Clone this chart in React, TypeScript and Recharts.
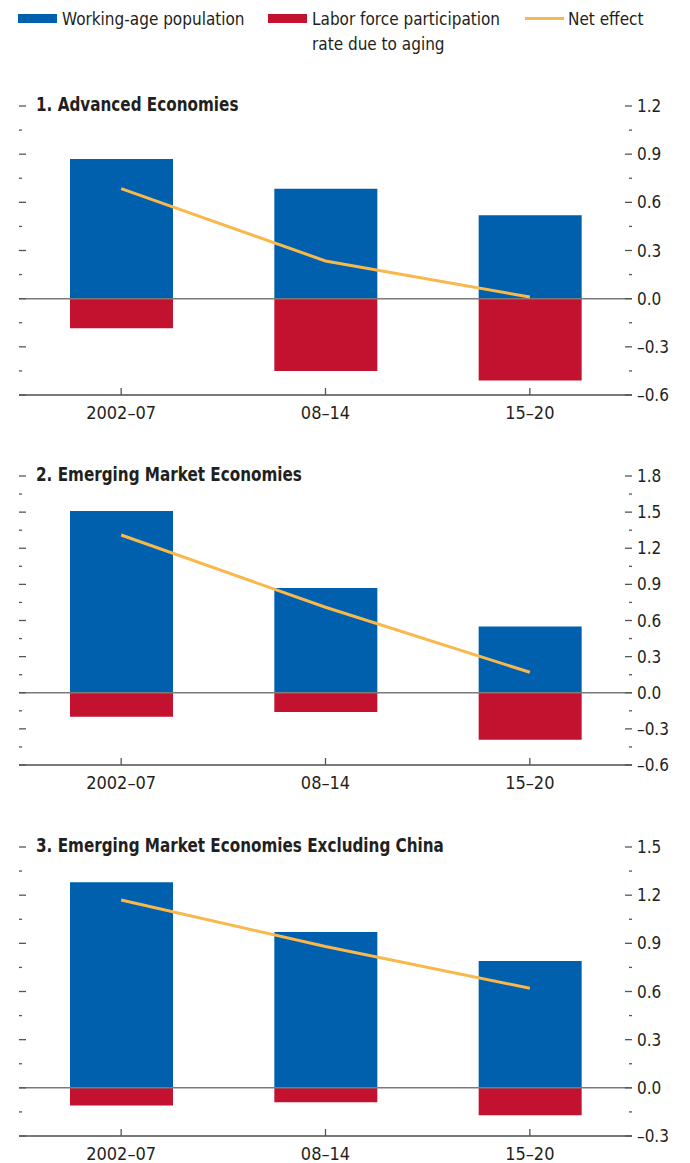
import { Bar, ComposedChart, Line, ReferenceLine, XAxis, YAxis } from 'recharts'

const periods = ['2002–07', '08–14', '15–20']

const advancedWorkingAge = [0.87, 0.685, 0.52]
const advancedParticipation = [-0.185, -0.45, -0.51]
const advancedNet = [0.685, 0.235, 0.01]
const advancedTicks = [-0.6, -0.45, -0.3, -0.15, 0, 0.15, 0.3, 0.45, 0.6, 0.75, 0.9, 1.05, 1.2]

const emergingWorkingAge = [1.51, 0.87, 0.55]
const emergingParticipation = [-0.2, -0.16, -0.39]
const emergingNet = [1.31, 0.71, 0.17]
const emergingTicks = [-0.6, -0.45, -0.3, -0.15, 0, 0.15, 0.3, 0.45, 0.6, 0.75, 0.9, 1.05, 1.2, 1.35, 1.5, 1.65, 1.8]

const exChinaWorkingAge = [1.28, 0.97, 0.79]
const exChinaParticipation = [-0.11, -0.09, -0.17]
const exChinaNet = [1.17, 0.88, 0.62]
const exChinaTicks = [-0.3, -0.15, 0, 0.15, 0.3, 0.45, 0.6, 0.75, 0.9, 1.05, 1.2, 1.35, 1.5]

const FONT = '"Liberation Sans Narrow", "DejaVu Sans Condensed", "Liberation Sans", sans-serif'
const BLUE = '#0060ae'
const RED = '#c3122f'
const YELLOW = '#f9b84b'
const TICK = '#555'
const TEXT = '#231f20'

const isMajor = (v: number) => Math.abs(Math.round(v / 0.3) * 0.3 - v) < 1e-6
const fmt = (v: number) => v.toFixed(1).replace('-', '–')

function LeftTick(props: any) {
  const { x, y, payload } = props
  const len = isMajor(payload.value) ? 7 : 3
  return <line x1={x} x2={x + len} y1={y} y2={y} stroke={TICK} strokeWidth={1.3} />
}

function RightTick(props: any) {
  const { x, y, payload } = props
  const major = isMajor(payload.value)
  const len = major ? 7 : 3
  return (
    <g>
      <line x1={x - len} x2={x} y1={y} y2={y} stroke={TICK} strokeWidth={1.3} />
      {major && (
        <text x={x + 5} y={y + 6} fontFamily={FONT} fontSize={17} fill={TEXT}>
          {fmt(payload.value)}
        </text>
      )}
    </g>
  )
}

function XTick(props: any) {
  const { x, y, payload } = props
  return (
    <g>
      <line x1={x} x2={x} y1={y - 7} y2={y} stroke={TICK} strokeWidth={1.3} />
      <text x={x} y={y + 24} textAnchor="middle" fontFamily={FONT} fontSize={18} fill={TEXT}>
        {payload.value}
      </text>
    </g>
  )
}

type PanelProps = {
  title: string
  working: number[]
  participation: number[]
  net: number[]
  ticks: number[]
  top: number
}

function Panel({ title, working, participation, net, ticks, top }: PanelProps) {
  const data = periods.map((p, i) => ({
    period: p,
    working: working[i],
    participation: participation[i],
    net: net[i],
  }))
  const domain = [ticks[0], ticks[ticks.length - 1]]
  return (
    <div style={{ position: 'absolute', left: 0, top, width: 690, height: 339 }}>
      <ComposedChart
        width={690}
        height={339}
        data={data}
        stackOffset="sign"
        margin={{ top: 10, right: 0, bottom: 0, left: 18 }}
      >
        <XAxis
          dataKey="period"
          height={40}
          tickSize={0}
          tickMargin={0}
          tickLine={false}
          axisLine={{ stroke: '#4d4d4d', strokeWidth: 1.5 }}
          tick={(p: any) => <XTick {...p} />}
        />
        <YAxis
          yAxisId="l"
          orientation="left"
          width={1}
          type="number"
          domain={domain}
          allowDataOverflow
          ticks={ticks}
          interval={0}
          tickSize={0}
          tickMargin={0}
          tickLine={false}
          axisLine={false}
          tick={(p: any) => <LeftTick {...p} />}
        />
        <YAxis
          yAxisId="r"
          orientation="right"
          width={58}
          type="number"
          domain={domain}
          allowDataOverflow
          ticks={ticks}
          interval={0}
          tickSize={0}
          tickMargin={0}
          tickLine={false}
          axisLine={false}
          tick={(p: any) => <RightTick {...p} />}
        />
        <Bar yAxisId="r" dataKey="working" stackId="a" fill={BLUE} barSize={103} isAnimationActive={false} />
        <Bar yAxisId="r" dataKey="participation" stackId="a" fill={RED} barSize={103} isAnimationActive={false} />
        <ReferenceLine yAxisId="r" y={0} stroke="#7a7a7a" strokeWidth={1.5} />
        <Line
          yAxisId="l"
          dataKey="net"
          stroke={YELLOW}
          strokeWidth={3}
          dot={false}
          activeDot={false}
          isAnimationActive={false}
        />
      </ComposedChart>
      <div
        style={{
          position: 'absolute',
          left: 36,
          top: -2,
          fontFamily: FONT,
          fontWeight: 'bold',
          fontSize: 19,
          lineHeight: '20px',
          color: TEXT,
          whiteSpace: 'nowrap',
          transform: 'scaleX(0.89)',
          transformOrigin: 'left center',
        }}
      >
        {title}
      </div>
    </div>
  )
}

const legendText = {
  position: 'absolute' as const,
  fontFamily: FONT,
  fontSize: 17,
  lineHeight: '25px',
  color: TEXT,
  whiteSpace: 'nowrap' as const,
}

export default function App() {
  return (
    <div style={{ position: 'absolute', left: 0, top: 0, width: 690, height: 1163, background: '#fff' }}>
      <div style={{ position: 'absolute', left: 18, top: 14, width: 39, height: 9, background: BLUE }} />
      <div style={{ ...legendText, left: 62, top: 7 }}>Working-age population</div>
      <div style={{ position: 'absolute', left: 268, top: 14, width: 39, height: 9, background: RED }} />
      <div style={{ ...legendText, left: 312, top: 7 }}>
        Labor force participation
        <br />
        rate due to aging
      </div>
      <div style={{ position: 'absolute', left: 525, top: 17, width: 39, height: 3, background: YELLOW }} />
      <div style={{ ...legendText, left: 568, top: 7 }}>Net effect</div>

      <Panel
        title="1. Advanced Economies"
        working={advancedWorkingAge}
        participation={advancedParticipation}
        net={advancedNet}
        ticks={advancedTicks}
        top={96}
      />
      <Panel
        title="2. Emerging Market Economies"
        working={emergingWorkingAge}
        participation={emergingParticipation}
        net={emergingNet}
        ticks={emergingTicks}
        top={466}
      />
      <Panel
        title="3. Emerging Market Economies Excluding China"
        working={exChinaWorkingAge}
        participation={exChinaParticipation}
        net={exChinaNet}
        ticks={exChinaTicks}
        top={837}
      />
    </div>
  )
}
